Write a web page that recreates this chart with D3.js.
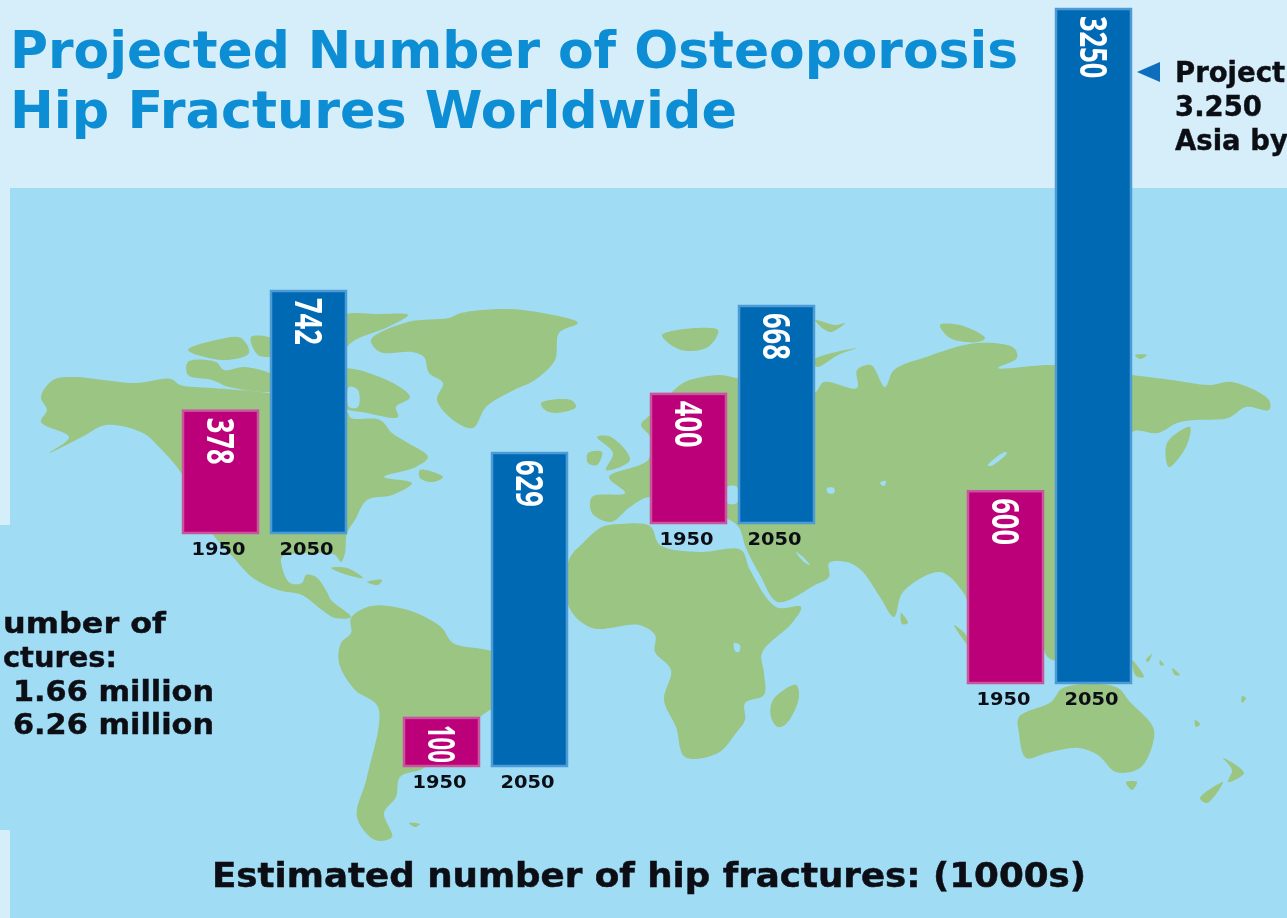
<!DOCTYPE html>
<html><head><meta charset="utf-8">
<script src="https://cdnjs.cloudflare.com/ajax/libs/d3/7.8.5/d3.min.js"></script>
<style>html,body{margin:0;padding:0;background:#d6eefa;overflow:hidden}svg{display:block}
text{font-family:"DejaVu Sans",sans-serif;font-weight:700}</style></head><body>
<div id="chart"></div>
<script>
// ---- data (thousands of hip fractures)
const regions = ["North America", "Latin America", "Europe", "Asia"];
const years = ["1950", "2050"];
const fractures1950 = [378, 100, 400, 600];
const fractures2050 = [742, 629, 668, 3250];
const titleLines = ["Projected Number of Osteoporosis", "Hip Fractures Worldwide"];
// the side notes run off the edge of the reference: only what it shows is kept
const totalLines = ["umber of", "ctures:", "1.66 million", "6.26 million"];
const noteLines = ["Project", "3.250", "Asia by"];
const caption = "Estimated number of hip fractures: (1000s)";

// ---- layout of each small chart on the map: each has its own scale, as in the original
const groupX = [182, 403, 650, 967];
const groupBase = [534, 767, 524, 684];
const groupTop = [290, 452, 305, 8];
const groupDomainMax = [742, 629, 668, 2093]; // the Asia bar is cut off at the top of the picture

// ---- base map outline
const land = [
 // North America
 [[41,397],[53,380],[73,377],[135,383],[171,379],[180,385],[212,388],[269,393],[300,400],[347,412],[351,418],[380,420],[392,433],[408,443],[428,457],[416,467],[384,477],[412,483],[392,495],[367,500],[355,520],[347,533],[345,553],[341,562],[335,555],[310,553],[282,557],[282,567],[290,583],[302,583],[306,575],[316,577],[327,592],[331,600],[351,617],[335,618],[322,610],[302,595],[278,590],[253,578],[233,557],[212,533],[182,474],[159,447],[143,433],[106,425],[82,437],[49,453],[69,437],[41,422],[47,410]],
 // Baffin & northern islands
 [[340,370],[380,377],[410,397],[396,407],[398,417],[367,413],[340,405]],
 [[340,317],[380,314],[408,315],[388,327],[355,340],[340,352]],
 [[188,350],[216,340],[241,338],[249,353],[224,360]],
 [[251,337],[275,340],[275,355],[258,355]],
 [[188,362],[216,362],[224,370],[245,367],[275,377],[275,390],[229,387],[212,380],[188,375]],
 // Greenland, Iceland
 [[371,340],[408,322],[449,318],[461,313],[506,309],[543,313],[578,323],[559,333],[555,360],[535,380],[514,390],[486,407],[473,428],[453,420],[437,400],[443,383],[429,373],[424,357],[412,352],[380,352]],
 [[541,403],[571,400],[576,407],[555,413],[545,410]],
 // Newfoundland, Caribbean
 [[420,470],[443,477],[433,482],[420,478]],
 [[331,568],[347,568],[363,578],[347,575]],
 [[367,582],[382,580],[378,585]],
 // South America
 [[351,618],[371,606],[408,610],[441,627],[453,643],[500,656],[500,700],[480,717],[424,768],[400,777],[396,797],[384,813],[392,837],[375,840],[357,817],[367,777],[378,707],[355,690],[339,663],[341,643],[351,633]],
 [[409,823],[420,824],[415,827]],
 // UK, Ireland, Svalbard
 [[597,437],[611,437],[630,460],[606,470],[613,453]],
 [[588,453],[602,452],[597,465],[588,463]],
 [[662,335],[718,330],[708,347],[681,350]],
 // Eurasia
 [[814,393],[824,382],[857,388],[857,370],[871,365],[885,387],[894,370],[926,357],[977,343],[1014,348],[1017,358],[998,368],[1054,365],[1132,375],[1172,380],[1209,385],[1232,382],[1269,400],[1269,410],[1246,407],[1228,418],[1195,420],[1177,423],[1158,433],[1132,432],[1100,500],[1056,590],[1056,650],[1046,650],[1000,640],[975,620],[963,592],[940,572],[903,592],[894,617],[880,597],[861,570],[847,562],[829,563],[829,577],[815,585],[778,602],[760,575],[746,548],[737,525],[700,510],[650,497],[630,507],[611,522],[592,513],[592,497],[625,493],[609,477],[648,460],[650,437],[641,425],[650,415],[672,392],[685,382],[718,375],[736,378],[760,385]],
 // Sakhalin/Japan, Novaya Zemlya, other Arctic islands
 [[1167,443],[1190,427],[1186,447],[1169,467]],
 [[814,360],[857,348],[838,355],[817,367]],
 [[815,320],[835,325],[845,323],[830,332]],
 [[940,325],[960,325],[985,338],[978,342],[950,338]],
 [[1135,355],[1147,355],[1140,359]],
 // Africa, Madagascar
 [[602,527],[620,524],[650,526],[660,545],[700,552],[741,550],[750,570],[776,607],[801,607],[792,623],[762,653],[764,673],[764,695],[745,703],[745,720],[736,733],[718,753],[685,757],[676,727],[664,700],[671,670],[655,652],[655,635],[639,625],[592,628],[569,607],[569,560],[583,543]],
 [[796,685],[799,697],[787,723],[778,727],[771,717],[773,700]],
 // South Asia islands, SE Asia, Oceania
 [[901,613],[908,623],[902,624]],
 [[954,625],[966,635],[968,645]],
 [[1046,590],[1056,600],[1056,660],[1046,655]],
 [[1132,660],[1144,677],[1136,676]],
 [[1146,660],[1152,654],[1148,662]],
 [[1160,660],[1164,665],[1160,665]],
 [[1172,668],[1180,675],[1175,675]],
 [[1195,720],[1200,724],[1196,727]],
 [[1242,696],[1246,698],[1242,703]],
 // Australia, Tasmania, New Zealand
 [[1019,717],[1051,702],[1063,688],[1116,687],[1130,702],[1153,727],[1153,743],[1140,768],[1116,772],[1098,755],[1079,748],[1047,753],[1026,758],[1019,733]],
 [[1126,782],[1137,782],[1132,790]],
 [[1223,758],[1244,773],[1228,782],[1232,770]],
 [[1223,782],[1207,803],[1200,798]]
];
const water = [
 [[349,387],[358,390],[358,407],[349,407]],
 [[727,487],[737,487],[737,503],[727,503]],
 [[827,488],[834,488],[834,493],[828,493]],
 [[880,483],[886,481],[884,486]],
 [[1005,452],[1007,453],[991,466],[988,465]],
 [[734,643],[740,645],[739,652],[735,651]],
 [[796,552],[802,556],[810,565],[804,562]]
];

const w = 1287, h = 918;
const svg = d3.select("#chart").append("svg").attr("width", w).attr("height", h).attr("viewBox", [0,0,w,h]);
const defs = svg.append("defs");
defs.append("filter").attr("id","soft").append("feGaussianBlur").attr("stdDeviation",0.7);
defs.append("filter").attr("id","softText").append("feGaussianBlur").attr("stdDeviation",0.45);

svg.append("rect").attr("width",w).attr("height",h).attr("fill","#d6eefa");
const mapG = svg.append("g").attr("filter","url(#soft)");
mapG.append("rect").attr("x",10).attr("y",188).attr("width",w-10).attr("height",h-188).attr("fill","#a1dcf5");
mapG.append("rect").attr("x",0).attr("y",525).attr("width",12).attr("height",305).attr("fill","#a1dcf5");
const outline = d3.line().curve(d3.curveCatmullRomClosed.alpha(0.5));
mapG.selectAll("path.land").data(land).join("path").attr("class","land").attr("d",outline).attr("fill","#9bc583");
mapG.selectAll("path.water").data(water).join("path").attr("class","water").attr("d",outline).attr("fill","#a1dcf5");

// title
const titleG = svg.append("g").attr("filter","url(#softText)");
titleG.selectAll("text.t").data(titleLines).join("text").attr("class","t")
  .attr("x",10).attr("y",(d,i)=>[68,128][i])
  .attr("textLength",(d,i)=>[1008,727][i]).attr("lengthAdjust","spacingAndGlyphs")
  .attr("font-size",52).attr("fill","#0a8dd3").text(d=>d);

// bars
const color = d3.scaleOrdinal().domain(years).range(["#bc007a","#0069b4"]);
const edge = d3.scaleOrdinal().domain(years).range(["#c9559f","#4b9bd5"]);
regions.forEach((r,i)=>{
  const vals = [fractures1950[i], fractures2050[i]];
  const x = d3.scaleBand().domain(years).range([groupX[i], groupX[i]+165]).paddingInner(0.125);
  const y = d3.scaleLinear().domain([0,groupDomainMax[i]]).range([groupBase[i],groupTop[i]]).clamp(true);
  const g = svg.append("g").attr("filter","url(#softText)");
  g.selectAll("rect").data(vals).join("rect")
    .attr("x",(d,j)=>x(years[j])+1).attr("width",x.bandwidth()-2)
    .attr("y",d=>y(d)+1).attr("height",d=>y(0)-y(d)-2)
    .attr("fill",(d,j)=>color(years[j])).attr("stroke",(d,j)=>edge(years[j])).attr("stroke-width",2.5);
  g.selectAll("text.v").data(vals).join("text").attr("class","v")
    .attr("transform",(d,j)=>`translate(${x(years[j])+x.bandwidth()/2},${y(d)+8}) rotate(90)`)
    .attr("dy","0.36em").attr("fill","#fff").attr("font-size",38)
    .style("font-family",'"Open Sans",sans-serif').style("font-weight",700)
    .attr("textLength",d=>d===100?38:String(d).length*15.6).attr("lengthAdjust","spacingAndGlyphs")
    .text(d=>d);
  const axis = svg.append("g").attr("transform",`translate(-2,${groupBase[i]})`)
    .attr("filter","url(#softText)")
    .call(d3.axisBottom(x).tickSize(0).tickPadding(9));
  axis.select(".domain").remove();
  axis.selectAll("text").attr("font-size",17.5).attr("fill","#0a0f14")
    .style("font-family",'"DejaVu Sans",sans-serif').style("font-weight",700)
    .attr("textLength",54).attr("lengthAdjust","spacingAndGlyphs");
});

// annotations
const textG = svg.append("g").attr("filter","url(#softText)");
textG.selectAll("text.total").data(totalLines).join("text").attr("class","total")
  .attr("x",(d,i)=>[3,3,13,13][i]).attr("y",(d,i)=>[633,667,701,734][i])
  .attr("textLength",(d,i)=>[163,114,201,201][i]).attr("lengthAdjust","spacingAndGlyphs")
  .attr("font-size",27.5).attr("fill","#0a0f14").attr("stroke","#0a0f14").attr("stroke-width",0.4).text(d=>d);
textG.selectAll("text.note").data(noteLines).join("text").attr("class","note")
  .attr("x",1175).attr("y",(d,i)=>[82,116,150][i])
  .attr("font-size",27.5).attr("fill","#0a0f14").attr("stroke","#0a0f14").attr("stroke-width",0.4).text(d=>d);
svg.append("path").attr("d",d3.line()([[1137,72],[1160,62],[1160,82]])+"Z").attr("fill","#0a6ebd").attr("filter","url(#softText)");
textG.append("text").attr("x",212).attr("y",887).attr("textLength",874).attr("lengthAdjust","spacingAndGlyphs")
  .attr("font-size",33.5).attr("fill","#0a0f14").attr("stroke","#0a0f14").attr("stroke-width",0.5).text(caption);
</script></body></html>
